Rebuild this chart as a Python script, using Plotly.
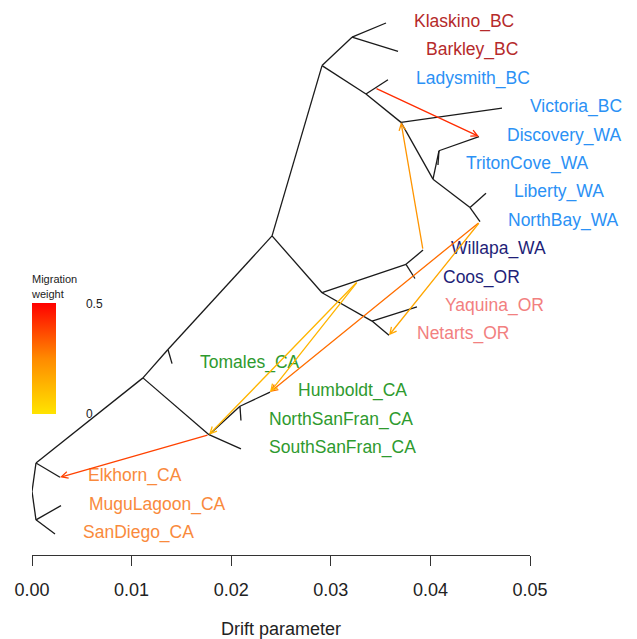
import plotly.graph_objects as go
from plotly.colors import sample_colorscale

# ---------------- data ----------------
tip_names = ["Klaskino_BC", "Barkley_BC", "Ladysmith_BC", "Victoria_BC", "Discovery_WA",
             "TritonCove_WA", "Liberty_WA", "NorthBay_WA", "Willapa_WA", "Coos_OR",
             "Yaquina_OR", "Netarts_OR", "Tomales_CA", "Humboldt_CA", "NorthSanFran_CA",
             "SouthSanFran_CA", "Elkhorn_CA", "MuguLagoon_CA", "SanDiego_CA"]
tip_drift = [0.03554, 0.03675, 0.03574, 0.04719, 0.04488,
             0.04076, 0.04558, 0.04498, 0.03926, 0.03845,
             0.03865, 0.03584, 0.01406, 0.02390, 0.02098,
             0.02098, 0.00281, 0.00291, 0.00231]
tip_pos = list(range(19))
tip_colors = ["#B52A2A", "#B52A2A", "#2B91F5", "#2B91F5", "#2B91F5",
              "#2B91F5", "#2B91F5", "#2B91F5", "#1F1F78", "#1F1F78",
              "#F28080", "#F28080", "#2E9A2E", "#2E9A2E", "#2E9A2E",
              "#2E9A2E", "#F98A3C", "#F98A3C", "#F98A3C"]

node_names = ["R", "A", "C", "B", "T", "F", "G", "H", "I", "J", "K", "L", "M", "N", "O", "P", "E", "Q"]
node_drift = [0.0, 0.0004, 0.0004, 0.01114, 0.01365, 0.02410, 0.02912, 0.03213, 0.03353,
              0.03705, 0.04026, 0.04086, 0.04398, 0.02912, 0.03755, 0.03414, 0.01777, 0.02088]
node_pos = [16.5, 15.5, 17.5, 12.5, 11.5, 7.5, 1.5, 0.5, 2.5,
            3.5, 5.5, 4.5, 6.5, 9.5, 8.5, 10.5, 14.5, 13.5]

edge_parent = ["R", "R", "A", "A", "C", "C", "B", "B", "T", "T", "F", "F",
               "G", "G", "H", "H", "I", "I", "J", "J", "K", "K", "L", "L",
               "M", "M", "N", "N", "O", "O", "P", "P", "E", "E", "Q", "Q"]
edge_child = ["A", "C", "Elkhorn_CA", "B", "MuguLagoon_CA", "SanDiego_CA", "T", "E",
              "Tomales_CA", "F", "G", "N", "H", "I", "Klaskino_BC", "Barkley_BC",
              "Ladysmith_BC", "J", "Victoria_BC", "K", "L", "M", "Discovery_WA", "TritonCove_WA",
              "Liberty_WA", "NorthBay_WA", "O", "P", "Willapa_WA", "Coos_OR",
              "Yaquina_OR", "Netarts_OR", "Q", "SouthSanFran_CA", "Humboldt_CA", "NorthSanFran_CA"]

# migration edges: origin point -> destination point, weight
mig_from_drift = [0.03444, 0.03926, 0.04498, 0.04498, 0.03273, 0.03273, 0.01777]
mig_from_pos = [2.29, 8.0, 7.0, 7.0, 9.09, 9.09, 14.5]
mig_to_drift = [0.04488, 0.03705, 0.02390, 0.03584, 0.02390, 0.01777, 0.00281]
mig_to_pos = [4.0, 3.5, 13.0, 11.0, 13.0, 14.5, 16.0]
mig_weight = [0.42, 0.22, 0.30, 0.17, 0.13, 0.13, 0.38]

x_ticks = [0.0, 0.01, 0.02, 0.03, 0.04, 0.05]
x_ticklabels = ["0.00", "0.01", "0.02", "0.03", "0.04", "0.05"]

heat_scale = [[0.0, "#FFE400"], [0.5, "#FF8A00"], [1.0, "#FF0000"]]
wmax = 0.5

# ---------------- build ----------------
coord = {}
for n, d, p in zip(tip_names, tip_drift, tip_pos):
    coord[n] = (d, p)
for n, d, p in zip(node_names, node_drift, node_pos):
    coord[n] = (d, p)

ex, ey = [], []
for pa, ch in zip(edge_parent, edge_child):
    ex += [coord[pa][0], coord[ch][0], None]
    ey += [coord[pa][1], coord[ch][1], None]

FONT = "Liberation Sans, Arial, Helvetica, sans-serif"

fig = go.Figure()
fig.add_trace(go.Scatter(x=ex, y=ey, mode="lines",
                         line=dict(color="#1a1a1a", width=1.3),
                         hoverinfo="skip", showlegend=False))

for n, d, p, c in zip(tip_names, tip_drift, tip_pos, tip_colors):
    fig.add_annotation(x=d + 0.0026, y=p - 0.05, xref="x", yref="y", text=n, showarrow=False,
                       xanchor="left", yanchor="middle",
                       font=dict(family=FONT, size=17.5, color=c))

# colour legend (dummy trace)
fig.add_trace(go.Scatter(x=[0.0], y=[16.5], mode="markers",
                         marker=dict(size=1, opacity=0, color=[0.0], cmin=0, cmax=wmax,
                                     colorscale=heat_scale, showscale=True,
                                     colorbar=dict(
                                         x=0.0, xanchor="left", xpad=0,
                                         y=1 - 414 / 555, yanchor="bottom", ypad=0,
                                         thickness=24, thicknessmode="pixels",
                                         len=142, lenmode="pixels",
                                         outlinewidth=0,
                                         tickvals=[0, 0.5], ticktext=["0", "0.5"],
                                         ticks="outside", ticklen=28, tickcolor="rgba(0,0,0,0)",
                                         tickfont=dict(family=FONT, size=12, color="#222"),
                                         title=dict(text="Migration<br>weight", side="top",
                                                    font=dict(family=FONT, size=11, color="#222")),
                                     )),
                         hoverinfo="skip", showlegend=False))

mig_colors = sample_colorscale(heat_scale, [w / wmax for w in mig_weight])
for fd, fp, td, tp, c in zip(mig_from_drift, mig_from_pos, mig_to_drift, mig_to_pos, mig_colors):
    fig.add_annotation(x=td, y=tp, ax=fd, ay=fp, xref="x", yref="y", axref="x", ayref="y",
                       text="", showarrow=True, arrowhead=5, arrowsize=1.0, arrowwidth=1.3,
                       arrowcolor=c, standoff=0)

fig.update_layout(
    width=637, height=639,
    margin=dict(l=32, r=107, t=0, b=84),
    paper_bgcolor="white", plot_bgcolor="white",
    font=dict(family=FONT, color="#222"),
    xaxis=dict(range=[0, 0.05], tickvals=x_ticks, ticktext=x_ticklabels,
               ticks="outside", ticklen=10, tickwidth=1, tickcolor="#333",
               showline=True, linecolor="#333", linewidth=1,
               showgrid=False, zeroline=False, ticklabelstandoff=8,
               tickfont=dict(family=FONT, size=18, color="#222"),
               title=dict(text="Drift parameter", standoff=25,
                          font=dict(family=FONT, size=18, color="#222"))),
    yaxis=dict(range=[(555 - 23) / 28.39, -23 / 28.39], visible=False,
               showgrid=False, zeroline=False),
)

fig.write_html("out.html")
